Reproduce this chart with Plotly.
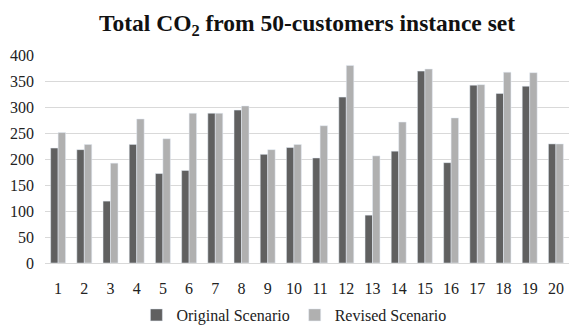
import plotly.graph_objects as go

categories = [str(i) for i in range(1, 21)]
original = [221, 218, 119, 228, 172, 178, 288, 294, 209, 222, 202, 319, 92, 215, 369, 193, 342, 326, 340, 229]
revised = [251, 228, 192, 277, 239, 288, 288, 302, 218, 228, 264, 380, 206, 271, 373, 279, 343, 367, 366, 229]

font = "Liberation Serif, Times New Roman, serif"

fig = go.Figure()
fig.add_trace(go.Bar(x=categories, y=original, name="Original Scenario", marker_color="#606060"))
fig.add_trace(go.Bar(x=categories, y=revised, name="Revised Scenario", marker_color="#b0b0b0"))

fig.update_layout(
    width=574, height=328,
    margin=dict(l=45, r=5, t=55, b=65, autoexpand=False),
    paper_bgcolor="white", plot_bgcolor="white",
    font=dict(family=font, size=16, color="#222222"),
    title=dict(text="<b>Total CO<sub>2</sub> from 50-customers instance set</b>",
               xref="paper", x=0.5, xanchor="center", y=0.93, yanchor="middle",
               font=dict(family=font, size=23.5, color="#111111")),
    barmode="group", bargap=0.43, bargroupgap=0,
    showlegend=True,
    legend=dict(orientation="h", x=0.475, xanchor="center", y=-0.25, yanchor="middle",
                font=dict(family=font, size=16), itemwidth=30, traceorder="normal"),
    xaxis=dict(showgrid=False, showline=True, linecolor="#d9d9d9", linewidth=1,
               ticks="", ticklabelstandoff=11, tickfont=dict(family=font, size=16), automargin=False),
    yaxis=dict(range=[0, 400], dtick=50, showgrid=True, gridcolor="#d9d9d9", gridwidth=1,
               zeroline=False, showline=False, ticks="", ticklabelstandoff=10,
               tickfont=dict(family=font, size=16), automargin=False),
)

fig.write_html("out.html", config={"displayModeBar": False},
               post_script="document.body.style.margin='0';")
